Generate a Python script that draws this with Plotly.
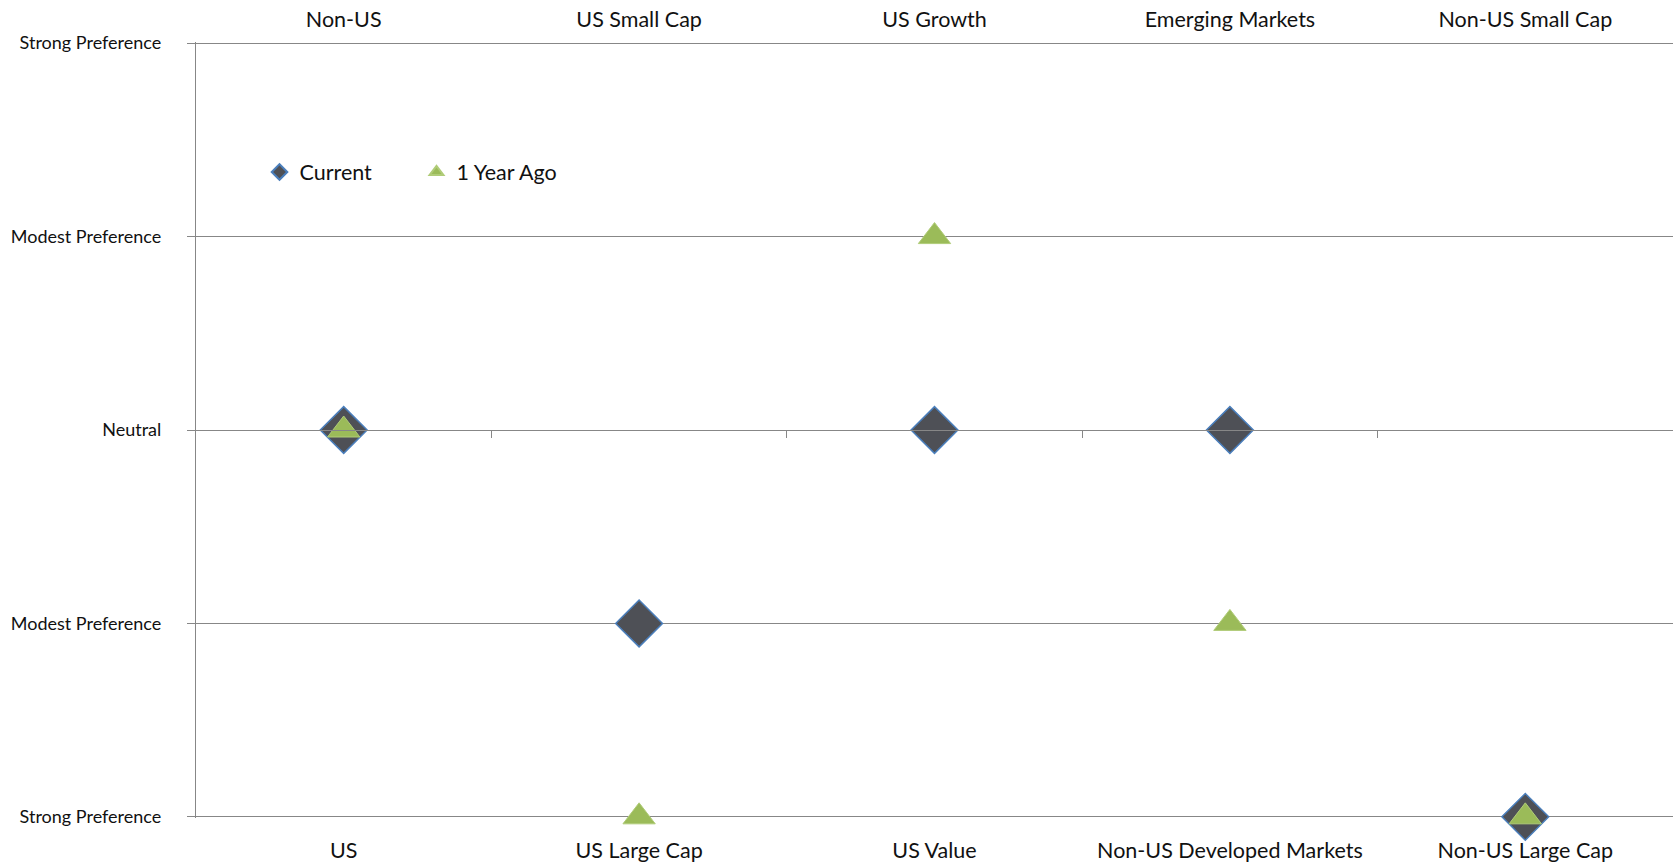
import plotly.graph_objects as go

# Category pairs: the upper label is preferred above neutral, the lower one below
top_labels = ["Non-US", "US Small Cap", "US Growth", "Emerging Markets", "Non-US Small Cap"]
bottom_labels = ["US", "US Large Cap", "US Value", "Non-US Developed Markets", "Non-US Large Cap"]
positions = [0.5, 1.5, 2.5, 3.5, 4.5]

# Preference scale: +2 strong toward top label ... -2 strong toward bottom label
scale_vals = [2, 1, 0, -1, -2]
scale_text = ["Strong Preference", "Modest Preference", "Neutral", "Modest Preference", "Strong Preference"]

current = [0, -1, 0, 0, -2]
year_ago = [0, -2, 1, -1, -2]

font_family = "Lato, Carlito, Calibri, sans-serif"
grid_color = "#878787"
text_color = "#111111"
y_pad = 0.006

fig = go.Figure()

fig.add_trace(go.Scatter(
    x=positions, y=current, mode="markers", name="Current",
    cliponaxis=False,
    marker=dict(symbol="diamond", size=36, color="#4e5056",
                line=dict(color="#4a7ebb", width=1.5)),
))
fig.add_trace(go.Scatter(
    x=positions, y=year_ago, mode="markers", name="1 Year Ago",
    cliponaxis=False,
    marker=dict(symbol="triangle-up", size=28, color="#9bbb59",
                line=dict(color="#b0cc78", width=1)),
))

fig.update_layout(
    width=1673, height=865,
    margin=dict(l=196, r=0, t=42, b=47),
    paper_bgcolor="white", plot_bgcolor="white",
    font=dict(family=font_family, color=text_color),
    showlegend=True,
    legend=dict(
        orientation="h", x=0.043, y=0.8325, xanchor="left", yanchor="middle",
        font=dict(size=21.5, family=font_family, color=text_color),
        itemsizing="constant", entrywidth=112, bgcolor="rgba(0,0,0,0)",
    ),
    xaxis=dict(
        range=[0, 5], tickmode="array", tickvals=positions, ticktext=bottom_labels,
        showgrid=False, zeroline=False, showline=False, ticks="",
        ticklabelstandoff=17, tickfont=dict(size=21.5, family=font_family, color=text_color),
    ),
    xaxis2=dict(
        overlaying="x", matches="x", side="top", anchor="y",
        range=[0, 5], tickmode="array", tickvals=positions, ticktext=top_labels,
        showgrid=False, zeroline=False, showline=False, ticks="",
        ticklabelstandoff=10, tickfont=dict(size=21.5, family=font_family, color=text_color),
    ),
    xaxis3=dict(
        overlaying="x", matches="x", anchor="free", position=0.5,
        range=[0, 5], tickmode="array", tickvals=[1, 2, 3, 4],
        showticklabels=False, showgrid=False, zeroline=False,
        showline=True, linecolor=grid_color, linewidth=1.3,
        ticks="outside", ticklen=7, tickwidth=1.3, tickcolor=grid_color,
    ),
    yaxis=dict(
        range=[-2 - y_pad, 2 + y_pad], tickmode="array", tickvals=scale_vals, ticktext=scale_text,
        showgrid=True, gridcolor=grid_color, gridwidth=1.3, zeroline=False,
        showline=True, linecolor=grid_color, linewidth=1.3,
        ticks="outside", ticklen=8, tickwidth=1.3, tickcolor=grid_color,
        ticklabelstandoff=22, tickfont=dict(size=18, family=font_family, color=text_color),
    ),
)

# anchor the top and neutral axes with empty traces so they are rendered
fig.add_trace(go.Scatter(x=[None], y=[None], xaxis="x2", showlegend=False, hoverinfo="skip"))
fig.add_trace(go.Scatter(x=[None], y=[None], xaxis="x3", showlegend=False, hoverinfo="skip"))

fig.write_html("out.html")
